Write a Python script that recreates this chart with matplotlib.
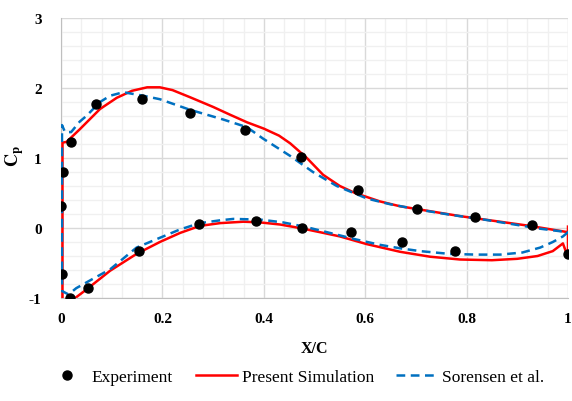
import numpy as np
import matplotlib
matplotlib.use("Agg")
import matplotlib.pyplot as plt
from matplotlib.ticker import MultipleLocator

plt.rcParams["font.family"] = ["Liberation Serif", "DejaVu Serif"]
plt.rcParams["mathtext.fontset"] = "stix"
plt.rcParams["axes.unicode_minus"] = False

# -------- DATA --------
# experimental Cp, upper surface then lower surface
exp_up_x = [0.0, 0.004, 0.02, 0.07, 0.16, 0.254, 0.363, 0.473, 0.586, 0.702, 0.817, 0.929, 1.0]
exp_up_y = [0.31, 0.80, 1.23, 1.77, 1.84, 1.64, 1.40, 1.01, 0.54, 0.27, 0.16, 0.04, -0.37]
exp_lo_x = [0.002, 0.018, 0.053, 0.154, 0.272, 0.385, 0.475, 0.572, 0.672, 0.777]
exp_lo_y = [-0.66, -1.0, -0.86, -0.33, 0.06, 0.10, 0.0, -0.06, -0.20, -0.33]

# present simulation (leading edge -> trailing edge)
sim_up_x = [0.003, 0.011, 0.037, 0.077, 0.11, 0.14, 0.17, 0.195, 0.22, 0.254, 0.30, 0.333,
            0.367, 0.40, 0.43, 0.452, 0.485, 0.517, 0.55, 0.58, 0.629, 0.669, 0.728,
            0.787, 0.866, 0.925, 1.0]
sim_up_y = [1.22, 1.23, 1.41, 1.70, 1.86, 1.96, 2.01, 2.01, 1.97, 1.87, 1.73, 1.62,
            1.51, 1.42, 1.32, 1.21, 1.0, 0.76, 0.60, 0.50, 0.38, 0.31, 0.24,
            0.17, 0.09, 0.03, -0.06]
sim_lo_x = [0.003, 0.028, 0.05, 0.097, 0.149, 0.195, 0.235, 0.274, 0.314, 0.36, 0.393,
            0.432, 0.471, 0.511, 0.55, 0.603, 0.669, 0.728, 0.787, 0.85, 0.9, 0.94,
            0.97, 0.99, 1.0, 1.0]
sim_lo_y = [-1.05, -1.0, -0.88, -0.61, -0.37, -0.20, -0.07, 0.03, 0.07, 0.09, 0.08,
            0.05, 0.0, -0.06, -0.12, -0.23, -0.34, -0.41, -0.45, -0.46, -0.44, -0.40,
            -0.33, -0.22, -0.42, 0.02]

# Sorensen et al. (leading edge -> trailing edge)
sor_up_x = [0.002, 0.008, 0.02, 0.037, 0.05, 0.077, 0.097, 0.123, 0.162, 0.195, 0.254,
            0.32, 0.367, 0.398, 0.452, 0.497, 0.544, 0.604, 0.649, 0.708, 0.767,
            0.826, 0.886, 0.945, 1.0]
sor_up_y = [1.47, 1.37, 1.37, 1.52, 1.60, 1.80, 1.89, 1.94, 1.89, 1.84, 1.69,
            1.55, 1.44, 1.28, 1.03, 0.80, 0.60, 0.42, 0.34, 0.26, 0.19,
            0.13, 0.06, -0.01, -0.06]
sor_lo_x = [0.002, 0.015, 0.03, 0.057, 0.097, 0.149, 0.195, 0.235, 0.274, 0.314, 0.34,
            0.393, 0.438, 0.48, 0.536, 0.58, 0.629, 0.669, 0.708, 0.767, 0.82, 0.866,
            0.91, 0.945, 0.97, 0.99, 1.0]
sor_lo_y = [-0.90, -0.95, -0.86, -0.75, -0.59, -0.28, -0.14, -0.02, 0.07, 0.11, 0.13,
            0.12, 0.08, 0.02, -0.08, -0.16, -0.24, -0.29, -0.33, -0.37, -0.38, -0.38,
            -0.35, -0.28, -0.20, -0.12, -0.06]


# -------- HELPERS --------
def closed(up_x, up_y, lo_x, lo_y):
    # lower surface back to the leading edge, then along the upper surface
    return lo_x[::-1] + up_x, lo_y[::-1] + up_y


# -------- PLOT --------
fig = plt.figure(figsize=(5.72, 4.02), dpi=100)
ax = fig.add_axes([0.1066, 0.2562, 0.8864, 0.6965])

sx, sy = closed(sim_up_x, sim_up_y, sim_lo_x, sim_lo_y)
bx, by = closed(sor_up_x, sor_up_y, sor_lo_x, sor_lo_y)

ax.plot(sx, sy, color="#FF0000", lw=1.8, label="Present Simulation", zorder=3)
ax.plot(bx, by, color="#0070C0", lw=1.8, dashes=(3.5, 2.2), label="Sorensen et al.", zorder=3)
ax.plot(exp_up_x + exp_lo_x, exp_up_y + exp_lo_y, "o", color="black", ms=6.5,
        label="Experiment", zorder=4)

ax.set_xlim(0, 1)
ax.set_ylim(-1, 3)
ax.xaxis.set_major_locator(MultipleLocator(0.2))
ax.xaxis.set_minor_locator(MultipleLocator(0.04))
ax.yaxis.set_major_locator(MultipleLocator(1))
ax.yaxis.set_minor_locator(MultipleLocator(0.2))
ax.xaxis.set_major_formatter(plt.FuncFormatter(lambda v, p: f"{v:g}"))

ax.grid(True, which="major", color="#D9D9D9", lw=1.0)
ax.grid(True, which="minor", color="#F0F0F0", lw=1.0)
ax.set_axisbelow(True)
ax.tick_params(which="both", length=0)
ax.tick_params(axis="x", pad=10)
ax.tick_params(axis="y", pad=14)
for lab in ax.get_xticklabels() + ax.get_yticklabels():
    lab.set_fontweight("bold")
    lab.set_fontsize(11)

for side in ["top", "right"]:
    ax.spines[side].set_visible(False)
for side in ["left", "bottom"]:
    ax.spines[side].set_color("#BFBFBF")

ax.set_xlabel("X/C", fontsize=11.5, fontweight="bold", labelpad=11)
ax.set_ylabel(r"$\mathbf{C_p}$", fontsize=13)
ax.yaxis.set_label_coords(-0.068, 0.51)

h, l = ax.get_legend_handles_labels()
order = [2, 0, 1]
fig.legend([h[i] for i in order], [l[i] for i in order], loc="lower center",
           bbox_to_anchor=(0.516, 0.0), ncol=3, frameon=False, fontsize=12.5,
           handlelength=2.4, columnspacing=1.3, handletextpad=0.25)

fig.savefig("out.png", dpi=100)
